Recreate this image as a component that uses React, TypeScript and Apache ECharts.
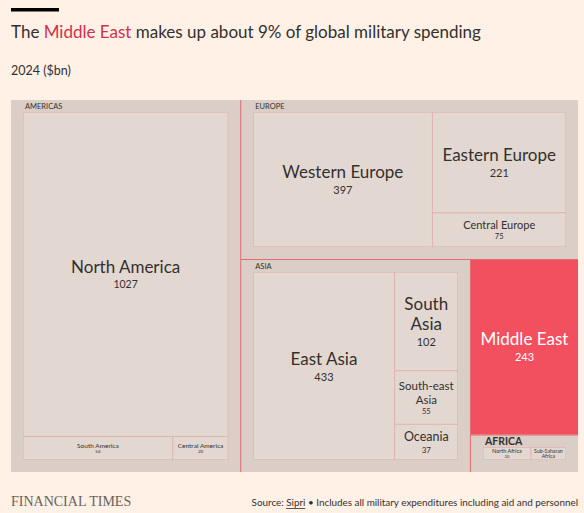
import React, { useEffect, useRef } from "react";
import * as echarts from "echarts";

// ---- Data (2024, $bn) ----
const americasNames = ["North America", "South America", "Central America"];
const americasValues = [1027, 54, 20];
const europeNames = ["Western Europe", "Eastern Europe", "Central Europe"];
const europeValues = [397, 221, 75];
const asiaNames = ["East Asia", "South Asia", "South-east Asia", "Oceania"];
const asiaValues = [433, 102, 55, 37];
const middleEastName = "Middle East";
const middleEastValue = 243;
const africaNames = ["North Africa", "Sub-Saharan Africa"];
const africaValues = [30, 22];

// ---- Styles ----
const FONT = "Lato, 'Noto Sans', sans-serif";
const INK = "#33302e";
const BG = "#fff1e5";
const RED = "#f2505f";
const TITLE_RED = "#d4304a";
const GROUP_FILL = "#dacec6";
const LEAF_FILL = "#e3d8d1";
const LEAF_LINE = "#e3aaa9";
const GROUP_LINE = "#e26a74";
const SOURCE_FONT_SIZE = 9.9;

const displayNames: Record<string, string> = {
  "South Asia": "South\nAsia",
  "South-east Asia": "South-east\nAsia",
  "Sub-Saharan Africa": "Sub-Saharan\nAfrica",
};
// [name font size, value font size]; 0 = value hidden
const labelSizes: Record<string, [number, number]> = {
  "North America": [17, 10.5],
  "South America": [6.5, 4.5],
  "Central America": [6.5, 4.5],
  "Western Europe": [17, 11],
  "Eastern Europe": [17, 11],
  "Central Europe": [11, 7.5],
  "East Asia": [17, 11],
  "South Asia": [17, 11],
  "South-east Asia": [11.5, 7.5],
  Oceania: [12.5, 8],
  "Middle East": [17, 11],
  "North Africa": [5.5, 4],
  "Sub-Saharan Africa": [5.2, 0],
};

function leaf(name: string, value: number, heights: Record<string, number>, color: string = INK) {
  const [ns, vs] = labelSizes[name];
  const disp = displayNames[name] ?? name;
  const nameLines = disp.split("\n");
  const lines = nameLines.map((l) => `{n|${l}}`).join("\n");
  const text = vs > 0 ? `${lines}\n{v|${value}}` : lines;
  const small = ns < 8;
  const nLH = small ? ns * 1.0 : Math.round(ns * 1.18);
  const vLH = small ? (vs || 4) * 1.2 : Math.round((vs || 4) * 1.45);
  const contentH = nameLines.length * nLH + (vs > 0 ? vLH : 0);
  const h = heights[name];
  const padTop = h != null ? Math.max(0, (h - 1 - contentH) / 2) : 0;
  return {
    name,
    value,
    label: {
      padding: [padTop, 0, 0, 0],
      formatter: () => text,
      rich: {
        n: { fontSize: ns, lineHeight: nLH, color, fontFamily: FONT },
        v: { fontSize: vs || 4, lineHeight: vLH, color, fontFamily: FONT },
      },
    },
  };
}

function group(name: string, names: string[], values: number[], heights: Record<string, number>, extra: any = {}) {
  return {
    name,
    children: names.map((n, i) => leaf(n, values[i], heights)),
    ...extra,
  };
}

function measure(text: string, font: string): number {
  const ctx = document.createElement("canvas").getContext("2d");
  if (!ctx) return text.length * 4.5;
  ctx.font = font;
  return ctx.measureText(text).width;
}

function buildOption(heights: Record<string, number>): any {
  const treeData = [
    group("AMERICAS", americasNames, americasValues, heights),
    group("EUROPE", europeNames, europeValues, heights),
    group("ASIA", asiaNames, asiaValues, heights),
    {
      ...leaf(middleEastName, middleEastValue, heights, "#ffffff"),
      itemStyle: { color: RED, borderWidth: 0 },
    },
    group("AFRICA", africaNames, africaValues, heights, {
      upperLabel: { fontSize: 10.5, fontWeight: "bold" },
    }),
  ];

  const srcPre = "Source: ";
  const srcLink = "Sipri";
  const srcPost = " \u2022 Includes all military expenditures including aid and personnel";
  const srcFont = `${SOURCE_FONT_SIZE}px Lato`;
  const wPre = measure(srcPre, srcFont);
  const wLink = measure(srcLink, srcFont);
  const wAll = measure(srcPre + srcLink + srcPost, srcFont);
  const srcRight = 578;
  const linkX0 = srcRight - wAll + wPre;

  return {
    animation: false,
    backgroundColor: BG,
    graphic: [
      { type: "rect", shape: { x: 11, y: 8, width: 48, height: 3.5 }, style: { fill: "#000" } },
      {
        type: "text",
        x: 11,
        y: 20,
        style: {
          text: "{a|The }{b|Middle East}{a| makes up about 9% of global military spending}",
          verticalAlign: "top",
          rich: {
            a: { fontSize: 17, lineHeight: 22, fontFamily: FONT, fill: INK },
            b: { fontSize: 17, lineHeight: 22, fontFamily: FONT, fill: TITLE_RED },
          },
        },
      },
      {
        type: "text",
        x: 11,
        y: 64,
        style: { text: "2024 ($bn)", fontSize: 12.5, fontFamily: FONT, fill: INK, verticalAlign: "top" },
      },
      {
        type: "text",
        x: 11,
        y: 494,
        style: {
          text: "FINANCIAL TIMES",
          fontSize: 14,
          fontFamily: "'Liberation Serif', 'DejaVu Serif', serif",
          fill: "#6a625c",
          verticalAlign: "top",
        },
      },
      {
        type: "text",
        x: srcRight,
        y: 497,
        style: {
          text: srcPre + srcLink + srcPost,
          fontSize: SOURCE_FONT_SIZE,
          fontFamily: FONT,
          fill: INK,
          align: "right",
          verticalAlign: "top",
        },
      },
      {
        type: "line",
        shape: { x1: linkX0, y1: 508.5, x2: linkX0 + wLink, y2: 508.5 },
        style: { stroke: INK, lineWidth: 0.8 },
      },
    ],
    series: [
      {
        type: "treemap",
        left: 11,
        top: 100,
        width: 567,
        height: 372,
        squareRatio: 0.5,
        sort: "desc",
        roam: false,
        nodeClick: false,
        silent: true,
        visibleMin: 0,
        breadcrumb: { show: false },
        label: { show: true, position: "inside", padding: 0, color: INK, fontFamily: FONT },
        upperLabel: { show: false },
        levels: [
          {
            itemStyle: { borderWidth: 0, gapWidth: 1, borderColor: GROUP_LINE },
            upperLabel: { show: false },
          },
          {
            itemStyle: { borderWidth: 12, borderColor: GROUP_FILL, gapWidth: 0 },
            upperLabel: {
              show: true,
              height: 12,
              fontSize: 7.5,
              color: INK,
              fontFamily: FONT,
              padding: [0, 0, 0, 2],
            },
          },
          {
            itemStyle: { borderWidth: 0.5, borderColor: LEAF_LINE, color: LEAF_FILL, gapWidth: 0 },
          },
        ],
        data: treeData,
      },
    ],
  };
}

export default function App() {
  const ref = useRef<HTMLDivElement>(null);
  useEffect(() => {
    document.body.style.margin = "0";
    document.body.style.background = BG;
    const chart = echarts.init(ref.current!, null, { renderer: "svg" });
    chart.setOption(buildOption({}));
    // read leaf heights from the treemap's own layout to centre labels vertically
    const heights: Record<string, number> = {};
    try {
      const series = (chart as any).getModel().getSeriesByIndex(0);
      series.getData().tree.root.eachNode((node: any) => {
        const l = node.getLayout();
        if (l && (!node.children || node.children.length === 0)) heights[node.name] = l.height;
      });
    } catch (e) {
      // ignore
    }
    chart.setOption(buildOption(heights), true);
    return () => chart.dispose();
  }, []);
  return <div ref={ref} style={{ width: 584, height: 513, background: BG }} />;
}
